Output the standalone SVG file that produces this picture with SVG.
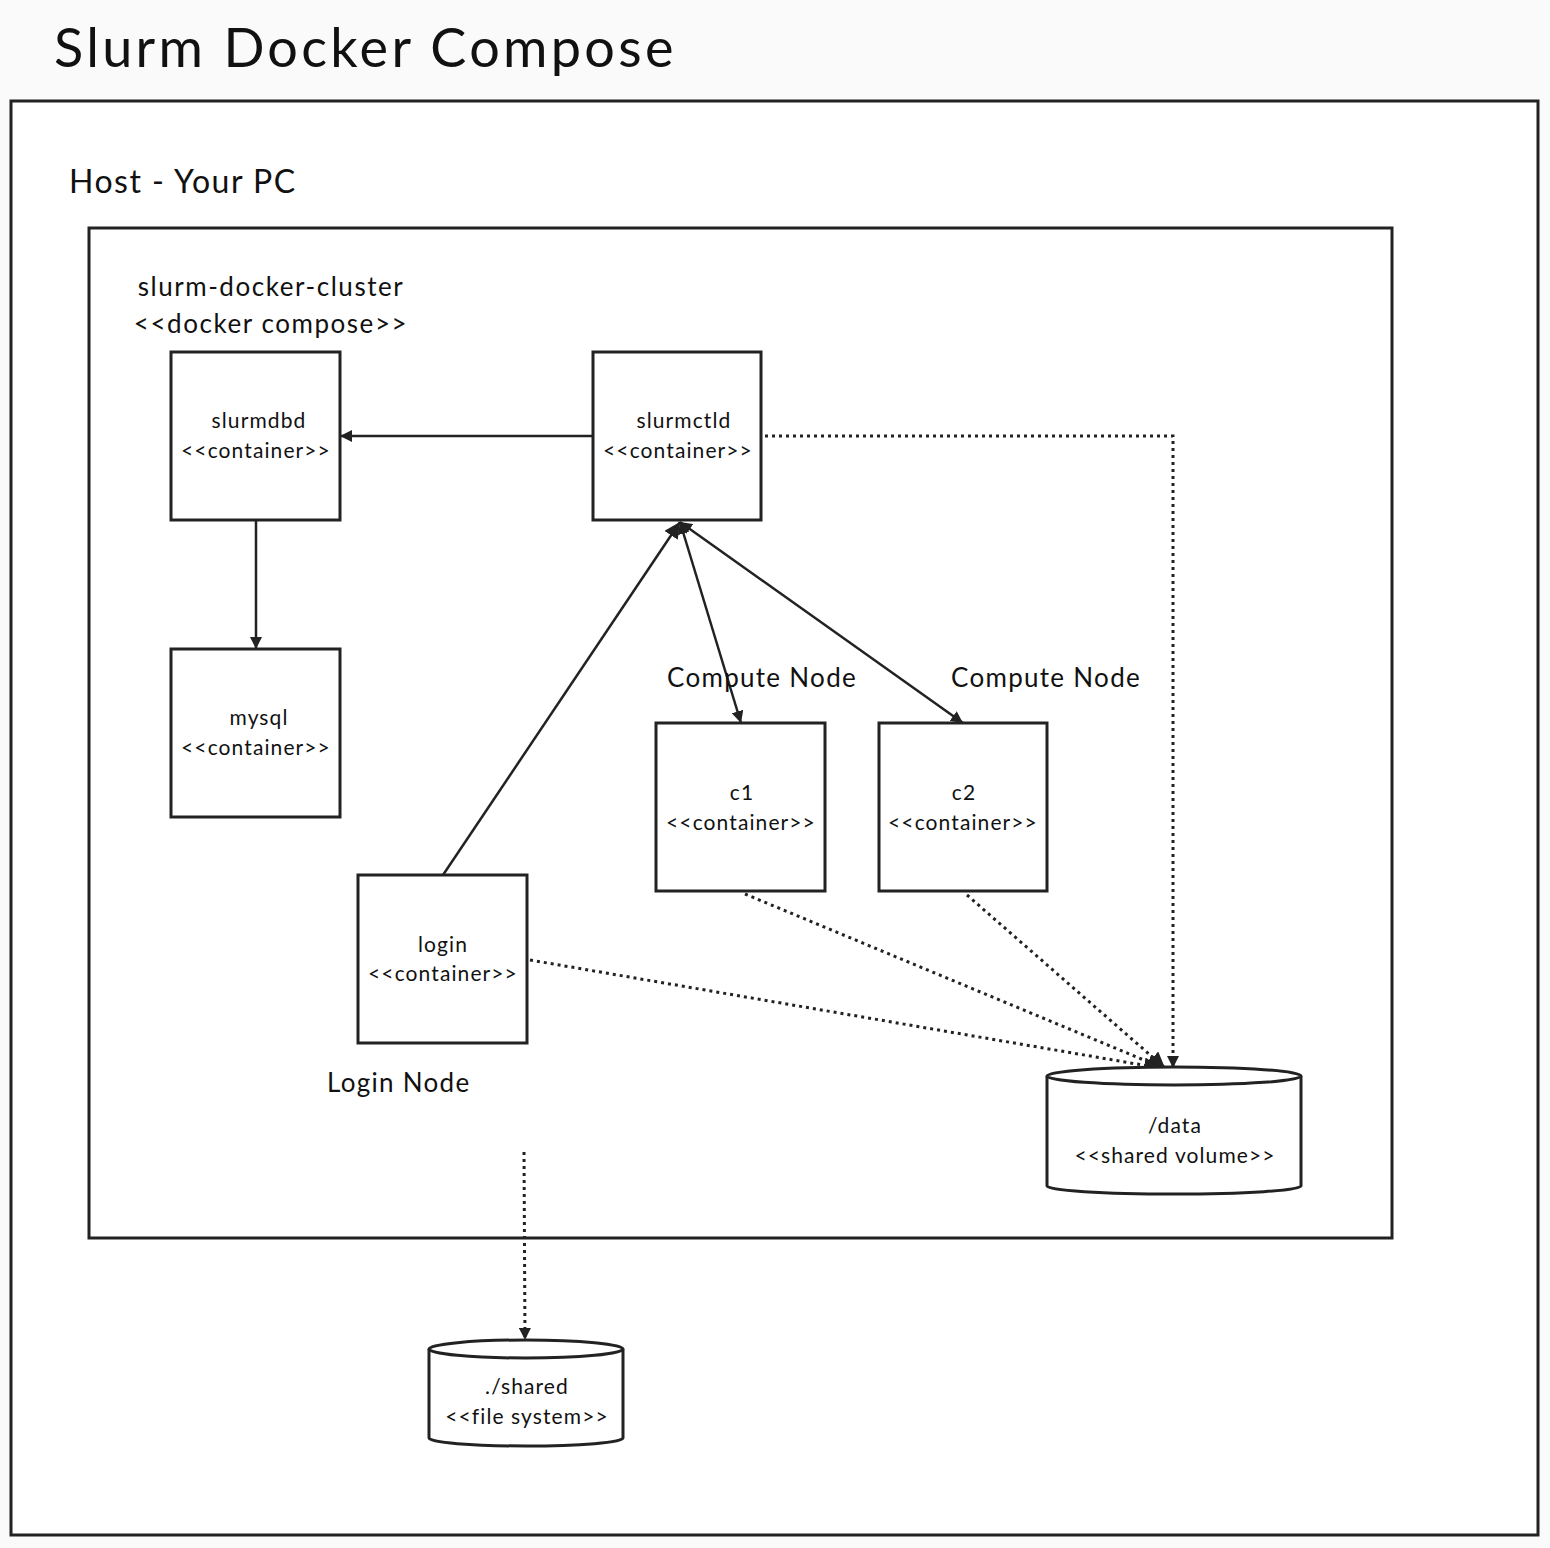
<svg xmlns="http://www.w3.org/2000/svg" width="1550" height="1548" viewBox="0 0 1550 1548">
<style>
.box{fill:#fff;stroke:#222;stroke-width:3}
.frame{fill:none;stroke:#222;stroke-width:3}
.t{font-family:Lato,"Liberation Sans",sans-serif;fill:#111}
.n{font-size:21px;text-anchor:middle;letter-spacing:1.1px}
.l{font-size:26px;letter-spacing:1.3px}
.c{stroke:#222;stroke-width:2.5;fill:none}
.d{stroke:#222;stroke-width:3;fill:none;stroke-dasharray:3 4}
</style>
<defs>
<marker id="a" viewBox="0 0 10 10" refX="10" refY="5" markerWidth="12" markerHeight="12" markerUnits="userSpaceOnUse" orient="auto-start-reverse">
<path d="M0,0 L10,5 L0,10 z" fill="#222"/>
</marker>
<marker id="b" viewBox="0 0 10 10" refX="10" refY="5" markerWidth="16" markerHeight="16" markerUnits="userSpaceOnUse" orient="auto-start-reverse">
<path d="M0,0 L10,5 L0,10 z" fill="#222"/>
</marker>
</defs>
<rect width="1550" height="1548" fill="#fafafa"/>
<text class="t" x="54" y="67" font-size="54" letter-spacing="3.3">Slurm Docker Compose</text>
<g id="host">
<rect class="frame" x="11" y="101" width="1527" height="1434" style="fill:#fff"/>
<text class="t" x="69" y="193" font-size="32" letter-spacing="1.5">Host - Your PC</text>
</g>
<g id="cluster">
<rect class="frame" x="89" y="228" width="1303" height="1010"/>
<text class="t" x="271" y="296" font-size="26" letter-spacing="1.55" text-anchor="middle">slurm-docker-cluster</text>
<text class="t" x="271" y="333" font-size="26" letter-spacing="1.55" text-anchor="middle">&lt;&lt;docker compose&gt;&gt;</text>
</g>
<g id="connectors">
<line class="c" x1="593" y1="436" x2="340" y2="436" marker-end="url(#a)"/>
<line class="c" x1="256" y1="520" x2="256" y2="649" marker-end="url(#a)"/>
<polyline class="d" points="765,436 1173,436 1173,1068" marker-end="url(#a)"/>
<line class="c" x1="443" y1="875" x2="680" y2="522" marker-end="url(#b)"/>
<line class="c" x1="680" y1="522" x2="741" y2="723" marker-start="url(#a)" marker-end="url(#a)"/>
<line class="c" x1="680" y1="522" x2="963" y2="723" marker-start="url(#a)" marker-end="url(#a)"/>
<line class="d" x1="745" y1="894" x2="1163" y2="1068" marker-end="url(#b)"/>
<line class="d" x1="967" y1="895" x2="1165" y2="1068" marker-end="url(#b)"/>
<line class="d" x1="530" y1="960" x2="1160" y2="1068" marker-end="url(#b)"/>
<line class="d" x1="524" y1="1152" x2="525" y2="1340" marker-end="url(#a)"/>
</g>
<g id="slurmdbd">
<rect class="box" x="171" y="352" width="169" height="168"/>
<text class="t n" x="259" y="428">slurmdbd</text>
<text class="t n" x="256" y="458">&lt;&lt;container&gt;&gt;</text>
</g>
<g id="slurmctld">
<rect class="box" x="593" y="352" width="168" height="168"/>
<text class="t n" x="684" y="428">slurmctld</text>
<text class="t n" x="678" y="458">&lt;&lt;container&gt;&gt;</text>
</g>
<g id="mysql">
<rect class="box" x="171" y="649" width="169" height="168"/>
<text class="t n" x="259" y="725">mysql</text>
<text class="t n" x="256" y="755">&lt;&lt;container&gt;&gt;</text>
</g>
<g id="c1">
<text class="t l" x="667" y="687">Compute Node</text>
<rect class="box" x="656" y="723" width="169" height="168"/>
<text class="t n" x="742" y="800">c1</text>
<text class="t n" x="741" y="830">&lt;&lt;container&gt;&gt;</text>
</g>
<g id="c2">
<text class="t l" x="951" y="687">Compute Node</text>
<rect class="box" x="879" y="723" width="168" height="168"/>
<text class="t n" x="964" y="800">c2</text>
<text class="t n" x="963" y="830">&lt;&lt;container&gt;&gt;</text>
</g>
<g id="login">
<rect class="box" x="358" y="875" width="169" height="168"/>
<text class="t n" x="443" y="952">login</text>
<text class="t n" x="443" y="981">&lt;&lt;container&gt;&gt;</text>
<text class="t l" x="327" y="1092">Login Node</text>
</g>
<g id="data">
<path class="box" d="M1047,1076 L1047,1186 A127,8 0 0 0 1301,1186 L1301,1076"/>
<ellipse class="box" cx="1174" cy="1076" rx="127" ry="9"/>
<text class="t n" x="1175" y="1133">/data</text>
<text class="t n" x="1175" y="1163">&lt;&lt;shared volume&gt;&gt;</text>
</g>
<g id="shared">
<path class="box" d="M429,1349 L429,1438 A97,8 0 0 0 623,1438 L623,1349"/>
<ellipse class="box" cx="526" cy="1349" rx="97" ry="9"/>
<text class="t n" x="527" y="1394">./shared</text>
<text class="t n" x="527" y="1424">&lt;&lt;file system&gt;&gt;</text>
</g>
</svg>
